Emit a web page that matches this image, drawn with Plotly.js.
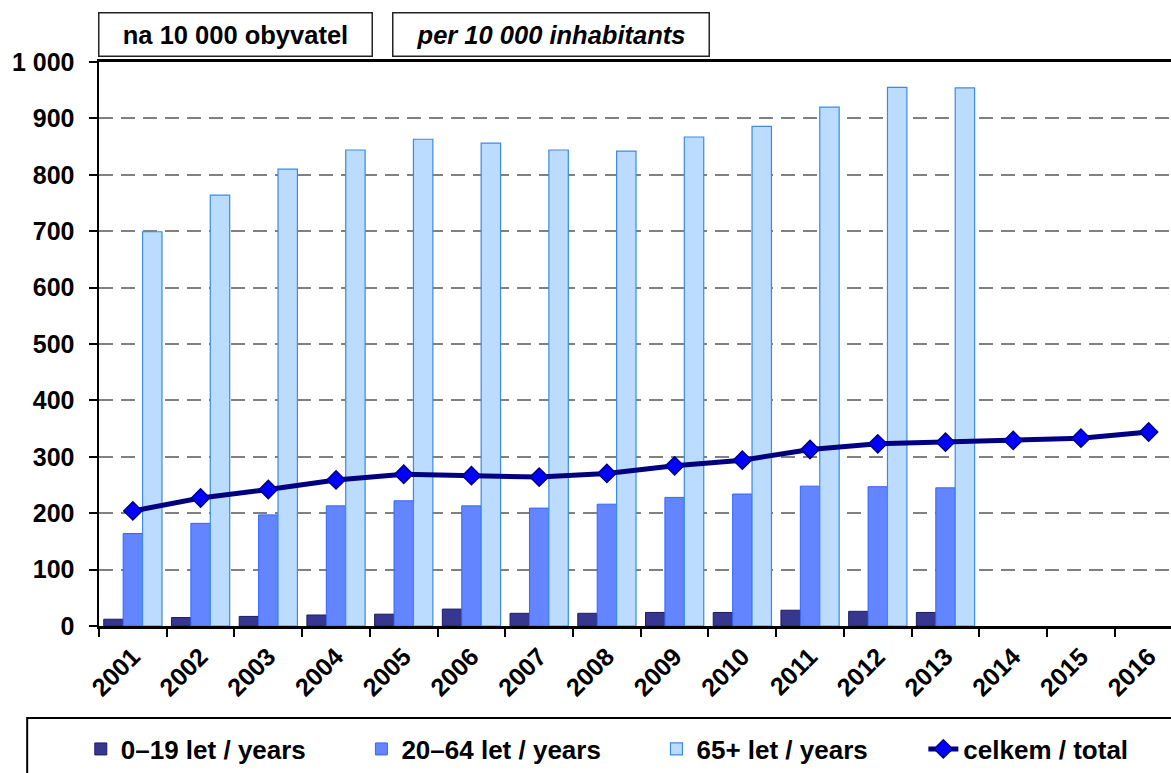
<!DOCTYPE html>
<html>
<head>
<meta charset="utf-8">
<script src="https://cdn.plot.ly/plotly-3.0.1.min.js"></script>
<style>
  html, body { margin: 0; padding: 0; background: #fff; overflow: hidden; }
  #chart { width: 1171px; height: 773px; }
</style>
</head>
<body>
<div id="chart"></div>
<script>
// ---- data ----
const years = ['2001','2002','2003','2004','2005','2006','2007','2008','2009','2010','2011','2012','2013','2014','2015','2016'];
const age0_19  = [12, 15, 17, 19.5, 21, 30, 22.5, 22.5, 24, 24, 28, 26, 24, null, null, null];
const age20_64 = [164, 182, 197, 213, 222, 213, 209, 216, 228, 234, 248, 247, 245, null, null, null];
const age65    = [699, 764, 810, 844, 863, 856, 844, 842, 867, 886, 920, 955, 954, null, null, null];
const total    = [204, 227, 242, 259, 269, 266.5, 264, 270.5, 284, 294, 313, 323, 326, 329, 333, 344];
const seriesNames = ['0–19 let / years', '20–64 let / years', '65+ let / years', 'celkem / total'];
const boxLabels = ['na 10 000 obyvatel', 'per 10 000 inhabitants'];

const FONT = '"Liberation Sans", Arial, sans-serif';
const pad = '\u00A0\u00A0\u00A0\u00A0\u00A0\u00A0\u00A0';

const traces = [
  { type: 'bar', x: years, y: age0_19, name: seriesNames[0] + pad,
    marker: { color: '#37378f', line: { color: '#1c1c66', width: 1 } } },
  { type: 'bar', x: years, y: age20_64, name: seriesNames[1] + pad,
    marker: { color: '#6385ff', line: { color: '#3366ff', width: 1 } } },
  { type: 'bar', x: years, y: age65, name: seriesNames[2] + pad,
    marker: { color: '#bcdcff', line: { color: '#3b8be3', width: 1.2 } } },
  { type: 'scatter', mode: 'lines+markers', x: years, y: total, name: seriesNames[3],
    line: { color: '#000080', width: 5 },
    marker: { symbol: 'diamond', size: 14, color: '#0000ff', line: { color: '#000080', width: 1.5 } } }
];

const layout = {
  width: 1171, height: 773,
  margin: { l: 99, r: 0, t: 62, b: 147 },
  paper_bgcolor: '#ffffff', plot_bgcolor: '#ffffff',
  font: { family: FONT, color: '#000000' },
  separators: ', ',
  barmode: 'group', bargap: 0.14, bargroupgap: 0,
  showlegend: true,
  hovermode: false,
  xaxis: {
    type: 'category', range: [-0.5, 15.33],
    showline: true, linecolor: '#000', linewidth: 3, mirror: true,
    ticks: 'outside', tickson: 'boundaries', ticklen: 8, tickwidth: 2, tickcolor: '#000',
    tickangle: -45, ticklabelstandoff: 3,
    tickfont: { family: FONT, size: 25, color: '#000', weight: 'bold' },
    showgrid: false, zeroline: false
  },
  yaxis: {
    range: [0, 1000], dtick: 100, tick0: 0,
    separatethousands: true, tickformat: ',d',
    showline: true, linecolor: '#000', linewidth: 2.5,
    ticks: 'outside', ticklen: 8, tickwidth: 2, tickcolor: '#000',
    ticklabelstandoff: 9,
    tickfont: { family: FONT, size: 25, color: '#000', weight: 'bold' },
    showgrid: true, gridcolor: '#808080', gridwidth: 2, griddash: '14px,8px',
    zeroline: false
  },
  legend: {
    orientation: 'h',
    xref: 'container', yref: 'container',
    x: 0.069, y: 0.031, xanchor: 'left', yanchor: 'middle',
    font: { family: FONT, size: 26, color: '#000', weight: 'bold' },
    bgcolor: 'rgba(0,0,0,0)', borderwidth: 0,
    traceorder: 'normal'
  },
  shapes: [
    { type: 'rect', xref: 'paper', yref: 'paper',
      x0: -0.067, x1: 1.02, y0: -0.163, y1: -0.3,
      line: { color: '#000', width: 2 }, fillcolor: 'rgba(0,0,0,0)' }
  ],
  annotations: [
    { xref: 'paper', yref: 'paper', x: 0.1269, y: 1.0479, xanchor: 'center', yanchor: 'middle',
      text: '<b>' + boxLabels[0] + '</b>', showarrow: false,
      width: 272, height: 42, borderpad: 0, bordercolor: '#222', borderwidth: 1.5,
      font: { family: FONT, size: 25.5, color: '#000' } },
    { xref: 'paper', yref: 'paper', x: 0.4212, y: 1.0479, xanchor: 'center', yanchor: 'middle',
      text: '<b><i>' + boxLabels[1] + '</i></b>', showarrow: false,
      width: 315, height: 42, borderpad: 0, bordercolor: '#222', borderwidth: 1.5,
      font: { family: FONT, size: 25.5, color: '#000' } }
  ]
};

Plotly.newPlot('chart', traces, layout, { staticPlot: true, displayModeBar: false });
</script>
</body>
</html>
